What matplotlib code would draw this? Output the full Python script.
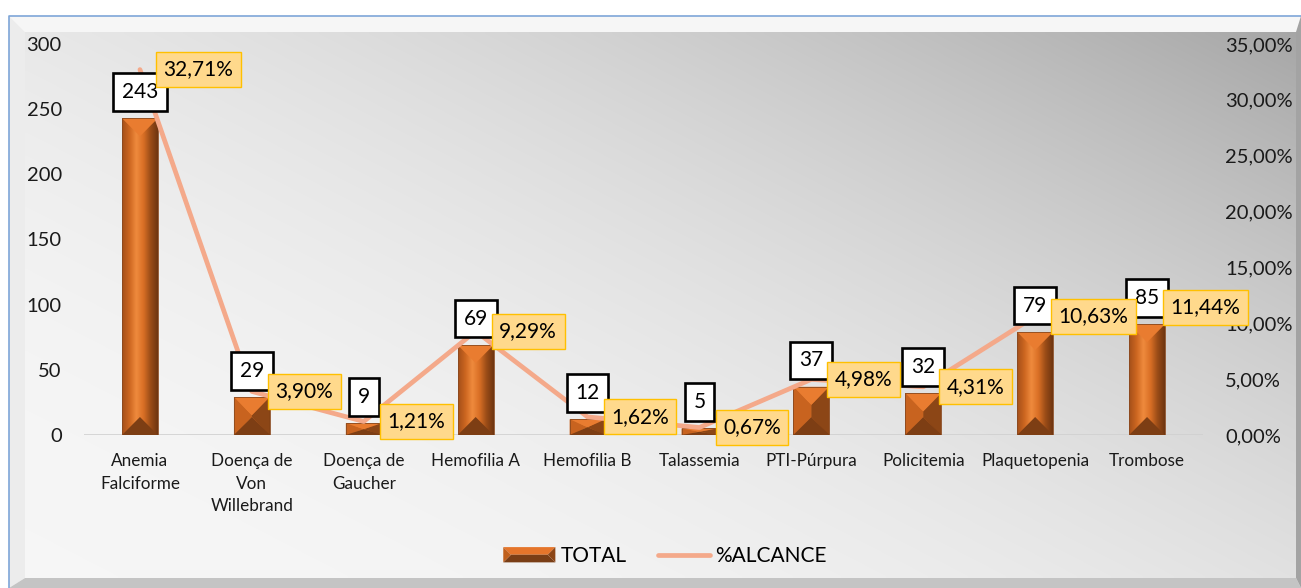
import numpy as np
import matplotlib
matplotlib.use("Agg")
import matplotlib.pyplot as plt
from matplotlib.patches import Rectangle, Polygon
from matplotlib.lines import Line2D
from matplotlib.legend_handler import HandlerBase
from matplotlib.colors import LinearSegmentedColormap
from matplotlib.ticker import FuncFormatter, MultipleLocator

plt.rcParams['font.family'] = ['Lato', 'DejaVu Sans']

categories = ["Anemia\nFalciforme", "Doença de\nVon\nWillebrand", "Doença de\nGaucher",
              "Hemofilia A", "Hemofilia B", "Talassemia", "PTI-Púrpura", "Policitemia",
              "Plaquetopenia", "Trombose"]
total = [243, 29, 9, 69, 12, 5, 37, 32, 79, 85]
alcance = [32.71, 3.90, 1.21, 9.29, 1.62, 0.67, 4.98, 4.31, 10.63, 11.44]
alcance_labels = ["32,71%", "3,90%", "1,21%", "9,29%", "1,62%", "0,67%", "4,98%", "4,31%", "10,63%", "11,44%"]

W, H = 1301, 588
fig = plt.figure(figsize=(W / 100, H / 100), dpi=100)

# ---- background with bevel frame ----
bg = fig.add_axes([0, 0, 1, 1], zorder=-10)
bg.set_xlim(0, W); bg.set_ylim(H, 0); bg.axis('off')
fig.patch.set_facecolor('white')
yy, xx = np.mgrid[0:H:4, 0:W:4]
u = xx / W
v = 1 - yy / H
t = np.clip(0.55 * u + 0.45 * v, 0, 1)
shade = 0.965 - 0.32 * t ** 2.2
img = np.dstack([shade, shade, shade])
bg.imshow(img, extent=(25, W + 20, 578, 32), aspect='auto', zorder=0, interpolation='bilinear')
bg.add_patch(Polygon([(9, 16), (W, 16), (W, 32), (25, 32)], closed=True, fc='#f6f6f6', ec='none', zorder=1))
bg.add_patch(Polygon([(9, 16), (25, 32), (25, 578), (9, H)], closed=True, fc='#ececec', ec='none', zorder=1))
bg.add_patch(Polygon([(9, H), (25, 578), (1296, 578), (W, H)], closed=True, fc='#c4c4c4', ec='none', zorder=1))
bg.add_patch(Polygon([(1296, 32), (W, 16), (W, H), (1296, 578)], closed=True, fc='#a3a3a3', ec='none', zorder=1))
bg.plot([8.5, 8.5, W], [H, 15.5, 15.5], color='#7ea6d8', lw=1.2, zorder=2)

# ---- main axes ----
ax = fig.add_axes([84 / W, 1 - 435 / H, (1203 - 84) / W, (435 - 44) / H])
ax2 = ax.twinx()
for a in (ax, ax2):
    a.patch.set_visible(False)
    for s in a.spines.values():
        s.set_visible(False)

x = np.arange(len(categories))
bw = 0.32
ax.set_xlim(-0.5, len(categories) - 0.5)
ax.set_ylim(0, 300)
ax2.set_ylim(0, 0.35)

ax.axhline(0, color='#d0d0d0', lw=1.2, zorder=1)

cmap = LinearSegmentedColormap.from_list('bar', ['#a4501a', '#cc6620', '#ef8a3d', '#d96f25', '#9a4c17', '#6f3611'])
grad = np.linspace(0, 1, 64).reshape(1, -1)
px_per_unit = (435 - 44) / 300.0
for xi, val in zip(x, total):
    x0, x1 = xi - bw / 2, xi + bw / 2
    rect = Rectangle((x0, 0), bw, val, fc='#c0601c', ec='none', zorder=2)
    ax.add_patch(rect)
    im = ax.imshow(grad, extent=(x0, x1, 0, val), aspect='auto', cmap=cmap, zorder=2.1, interpolation='bilinear')
    im.set_clip_path(rect)
    dy = min(18 / px_per_unit, val / 2)
    xc = xi
    ax.add_patch(Polygon([(x0, val), (x1, val), (xc, val - dy)], closed=True, fc='#e97c30', ec='none', zorder=2.3))
    ax.add_patch(Polygon([(x0, 0), (x1, 0), (xc, dy)], closed=True, fc='#7d3e14', ec='none', zorder=2.3))
    if val < 40:
        ax.add_patch(Polygon([(x0, 0), (x0, val), (xc, val - dy), (xc, dy)], closed=True, fc='#c8631f', ec='none', zorder=2.25))
        ax.add_patch(Polygon([(x1, 0), (x1, val), (xc, val - dy), (xc, dy)], closed=True, fc='#8c4616', ec='none', zorder=2.25))
    ax.add_patch(Rectangle((x0, 0), bw, val, fc='none', ec='#8a4a20', lw=0.6, zorder=2.4))

ax.set_xticks(x)
ax.set_xticklabels(categories, fontsize=12.3, linespacing=1.5, color='#1a1a1a')
ax.tick_params(axis='x', length=0, pad=13)
ax.yaxis.set_major_locator(MultipleLocator(50))
ax.tick_params(axis='y', length=0, pad=16, labelsize=14.5, labelcolor='#1a1a1a')

ax2.yaxis.set_major_locator(MultipleLocator(0.05))
ax2.yaxis.set_major_formatter(FuncFormatter(lambda v, p: f"{v * 100:.2f}%".replace('.', ',')))
ax2.tick_params(axis='y', length=0, pad=16, labelsize=14.5, labelcolor='#1a1a1a')

frac = [a / 100 for a in alcance]
ax2.plot(x, frac, color='#f4a98a', lw=3.4, solid_capstyle='round', zorder=2.0)

for xi, val in zip(x, total):
    ax2.annotate(str(val), xy=(xi, val), xycoords=ax.transData, xytext=(0, 19), textcoords='offset points',
                 ha='center', va='center', fontsize=15, color='black', zorder=2.2,
                 bbox=dict(boxstyle='square,pad=0.42', fc='white', ec='black', lw=1.9))
for xi, fv, lab in zip(x, frac, alcance_labels):
    ax2.annotate(lab, xy=(xi, fv), xytext=(17, 0), textcoords='offset points',
                 ha='left', va='center', fontsize=15, color='black', zorder=2.3,
                 bbox=dict(boxstyle='square,pad=0.36', fc='#ffd98c', ec='#ffc000', lw=1.0))


class BevelBarHandler(HandlerBase):
    def create_artists(self, legend, orig_handle, xdescent, ydescent, width, height, fontsize, trans):
        x0, y0 = -xdescent, -ydescent
        x1, y1 = x0 + width, y0 + height
        ym = y0 + height / 2
        d = height / 2
        top = Polygon([(x0, y1), (x1, y1), (x1 - d, ym), (x0 + d, ym)], closed=True, fc='#e5752b', ec='none', transform=trans)
        bot = Polygon([(x0, y0), (x1, y0), (x1 - d, ym), (x0 + d, ym)], closed=True, fc='#7a3e16', ec='none', transform=trans)
        lft = Polygon([(x0, y0), (x0, y1), (x0 + d, ym)], closed=True, fc='#c0601c', ec='none', transform=trans)
        rgt = Polygon([(x1, y0), (x1, y1), (x1 - d, ym)], closed=True, fc='#8c4616', ec='none', transform=trans)
        return [top, bot, lft, rgt]


bar_handle = Rectangle((0, 0), 1, 1)
line_handle = Line2D([0], [0], color='#f4a98a', lw=3.4, solid_capstyle='round')
fig.legend([bar_handle, line_handle], ['TOTAL', '%ALCANCE'],
           handler_map={Rectangle: BevelBarHandler()},
           loc='center', bbox_to_anchor=(665 / W, 1 - 556 / H), ncol=2, frameon=False,
           fontsize=15, handlelength=2.5, handleheight=0.75, handletextpad=0.25, columnspacing=1.5)

fig.savefig('out.png', dpi=100)
